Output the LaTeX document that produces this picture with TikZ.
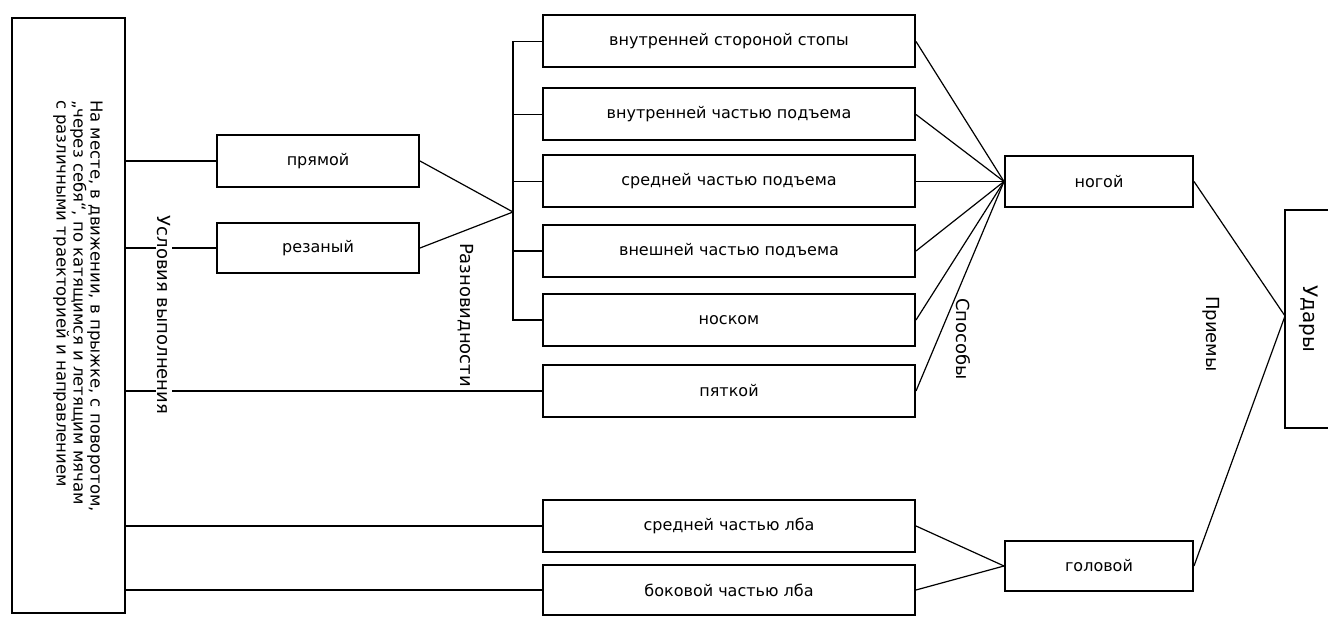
\documentclass[tikz,border=0pt]{standalone}
\usepackage{fontspec}
\setmainfont{DejaVu Sans}
\begin{document}
\begin{tikzpicture}[x=1pt,y=-1pt,
  box/.style={draw, line width=2pt, inner sep=0pt, minimum width=372pt, minimum height=52pt, font=\fontsize{16}{18}\selectfont},
  sbox/.style={box, minimum width=202pt},
  rbox/.style={box, minimum width=188pt},
  conn/.style={line width=1.2pt},
  vlab/.style={rotate=-90, inner sep=1pt, font=\fontsize{18}{20}\selectfont}]
\useasboundingbox (0,0) rectangle (1328,617);
% left big box
\node[draw, line width=2pt, minimum width=113pt, minimum height=595pt, inner sep=0pt] (big) at (68.5,315.5) {};
\node[rotate=-90, align=left, inner sep=0pt, font=\fontsize{16.5}{17}\selectfont] (bigtxt) at (78,306)
  {На месте, в движении, в прыжке, с поворотом,\\
   „через себя“, по катящимся и летящим мячам\\
   с различными траекторией и направлением};
% second column
\node[sbox] (pryam) at (318,161) {прямой};
\node[sbox, minimum height=50pt] (rez) at (318,248) {резаный};
% third column
\node[box] (b1) at (729,41.5) {внутренней стороной стопы};
\node[box] (b2) at (729,114.5) {внутренней частью подъема};
\node[box] (b3) at (729,181.5) {средней частью подъема};
\node[box] (b4) at (729,251) {внешней частью подъема};
\node[box] (b5) at (729,320) {носком};
\node[box] (b6) at (729,391) {пяткой};
\node[box] (b7) at (729,526) {средней частью лба};
\node[box, minimum height=50pt] (b8) at (729,590) {боковой частью лба};
% fourth column
\node[rbox, minimum height=51pt] (nogoy) at (1099,181.5) {ногой};
\node[rbox, minimum height=50pt] (golov) at (1099,566) {головой};
% right box (cut off at the right edge)
\node[minimum width=43pt, minimum height=218pt, inner sep=0pt] (udary) at (1306.5,319) {};
\draw[line width=2pt] (udary.north east) -- (udary.north west) -- (udary.south west) -- (udary.south east);
\node[vlab, font=\fontsize{20}{22}\selectfont] (udtxt) at (1309,319) {Удары};
% connectors from the big box
\draw[conn] (big.east |- pryam.west) -- (pryam.west);
\draw[conn] (big.east |- rez.west) -- (rez.west);
\draw[conn] (big.east |- b6.west) -- (b6.west);
\draw[conn] (big.east |- b7.west) -- (b7.west);
\draw[conn] (big.east |- b8.west) -- (b8.west);
% bracket
\coordinate (bx) at (513,212);
\draw[conn] (pryam.east) -- (bx);
\draw[conn] (rez.east) -- (bx);
\draw[conn] (b1.west) -- (bx |- b1.west) -- (bx |- b5.west) -- (b5.west);
\draw[conn] (bx |- b2.west) -- (b2.west);
\draw[conn] (bx |- b3.west) -- (b3.west);
\draw[conn] (bx |- b4.west) -- (b4.west);
% to nogoy
\foreach \b in {b1,b2,b3,b4,b5,b6} \draw[conn] (\b.east) -- (nogoy.west);
\draw[conn] (b7.east) -- (golov.west);
\draw[conn] (b8.east) -- (golov.west);
\coordinate (ud) at (1285,316);
\draw[conn] (nogoy.east) -- (ud);
\draw[conn] (golov.east) -- (ud);
% vertical labels
\node[vlab, fill=white, inner xsep=6pt] (usl) at (164,315) {Условия выполнения};
\node[vlab] (razn) at (466,315) {Разновидности};
\node[vlab] (spos) at (963,339) {Способы};
\node[vlab] (priem) at (1211,334) {Приемы};
\end{tikzpicture}
\end{document}
